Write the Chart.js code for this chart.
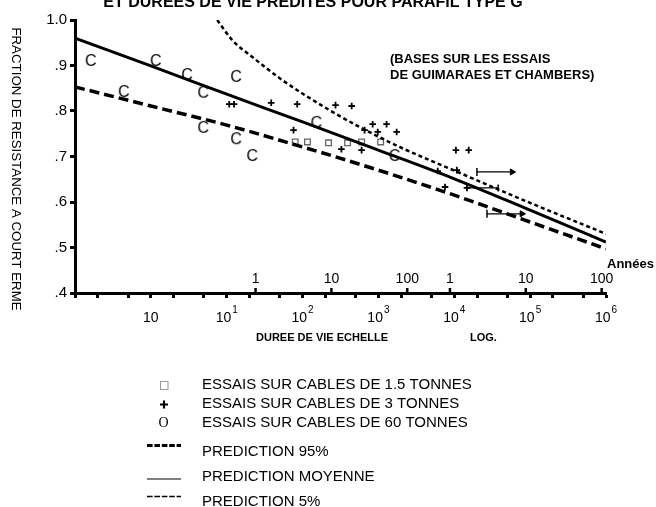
<!DOCTYPE html>
<html>
<head>
<meta charset="utf-8">
<script src="https://cdn.jsdelivr.net/npm/chart.js@4/dist/chart.umd.min.js"></script>
<style>
  html, body { margin: 0; padding: 0; background: #fff; }
  #wrap { position: relative; width: 656px; height: 507px; }
</style>
</head>
<body>
<div id="wrap"><canvas id="chart" width="656" height="507"></canvas></div>
<script>
// ---- Axes -------------------------------------------------------------
const hourMin = 0.1;
const hourMax = 1e6;
const hourTicks = [0.1, 0.2, 0.5, 1, 2, 5, 10, 20, 50, 100, 200, 500,
                   1e3, 2e3, 5e3, 1e4, 2e4, 5e4, 1e5, 2e5, 5e5, 1e6];
const decadeTicks = [1, 10, 100, 1e3, 1e4, 1e5, 1e6];
const decadeExponents = ['', '1', '2', '3', '4', '5', '6'];
// days (1, 10, 100) then years (1, 10, 100), expressed in hours
const calendarTicks = [24, 240, 2400, 8766, 87660, 876600];
const calendarLabels = ['1', '10', '100', '1', '10', '100'];
const fractionTicks = [0.4, 0.5, 0.6, 0.7, 0.8, 0.9, 1.0];
const fractionTickLabels = ['.4', '.5', '.6', '.7', '.8', '.9', '1.0'];

// ---- Test results ------------------------------------------------------
// 1.5 tonne cables
const cable15Hours    = [80, 116, 220, 392, 600, 1070];
const cable15Fraction = [0.732, 0.732, 0.730, 0.730, 0.732, 0.732];
// 3 tonne cables
const cable3Hours    = [10.8, 12.5, 38.6, 85, 76, 272, 444, 325, 600, 657,
                        840, 1280, 980, 1740, 10500, 15500, 6050, 10800, 7550];
const cable3Fraction = [0.815, 0.815, 0.818, 0.815, 0.758, 0.813, 0.811, 0.716, 0.714, 0.758,
                        0.771, 0.771, 0.754, 0.754, 0.714, 0.714, 0.668, 0.670, 0.633];
// 60 tonne cables
const cable60Hours    = [0.161, 1.16, 3.0, 4.9, 13.3, 0.44, 4.9, 13.3, 21.7, 152, 1630];
const cable60Fraction = [0.910, 0.910, 0.879, 0.840, 0.875, 0.842, 0.763, 0.738, 0.701, 0.774, 0.701];
// unbroken specimens (still running): start and current duration
const runoutStartHours = [19900, 27000];
const runoutEndHours   = [57800, 78000];
const runoutFraction   = [0.666, 0.574];
const spanStartHours = [14700];
const spanEndHours   = [37900];
const spanFraction   = [0.631];

// ---- Predictions -------------------------------------------------------
const meanHours    = [0.1, 1, 10, 100, 1e3, 1e4, 1e5, 1e6];
const meanFraction = [0.960, 0.899, 0.837, 0.776, 0.714, 0.651, 0.582, 0.512];
const pred95Hours    = [0.1, 1, 10, 100, 1e3, 1e4, 1e5, 1e6];
const pred95Fraction = [0.853, 0.811, 0.769, 0.721, 0.670, 0.615, 0.556, 0.497];
const pred5Hours    = [7.5, 11.8, 21.7, 54, 226, 564, 1900, 11800, 1e5, 1e6];
const pred5Fraction = [1.0, 0.956, 0.919, 0.868, 0.802, 0.765, 0.721, 0.664, 0.598, 0.530];

const SANS = "'Liberation Sans', Arial, Helvetica, sans-serif";
const SERIF = "'Liberation Serif', 'Times New Roman', serif";

const pts = (xs, ys) => xs.map((x, i) => ({ x, y: ys[i] }));

// "C" glyph used as the marker for the 60 tonne tests
function glyphMarker(ch) {
  const c = document.createElement('canvas');
  c.width = 14; c.height = 16;
  const g = c.getContext('2d');
  g.font = '16px ' + SANS;
  g.fillStyle = '#000';
  g.textAlign = 'center';
  g.textBaseline = 'middle';
  g.fillText(ch, 7, 8.5);
  return c;
}
const cMarker = glyphMarker('C');

const lineDefaults = { type: 'line', showLine: true, pointRadius: 0, borderColor: '#000', fill: false };

const datasets = [
  Object.assign({}, lineDefaults, {
    label: 'PREDICTION MOYENNE', data: pts(meanHours, meanFraction),
    borderWidth: 3, cubicInterpolationMode: 'monotone'
  }),
  Object.assign({}, lineDefaults, {
    label: 'PREDICTION 95%', data: pts(pred95Hours, pred95Fraction),
    borderWidth: 3.5, borderDash: [10, 5], cubicInterpolationMode: 'monotone'
  }),
  Object.assign({}, lineDefaults, {
    label: 'PREDICTION 5%', data: pts(pred5Hours, pred5Fraction),
    borderWidth: 2.5, borderDash: [4, 3], cubicInterpolationMode: 'monotone'
  }),
  {
    label: 'ESSAIS SUR CABLES DE 1.5 TONNES', data: pts(cable15Hours, cable15Fraction),
    pointStyle: 'rect', pointRadius: 4, borderWidth: 1.3,
    borderColor: '#666', backgroundColor: '#fff', clip: false
  },
  {
    label: 'ESSAIS SUR CABLES DE 3 TONNES', data: pts(cable3Hours, cable3Fraction),
    pointStyle: 'cross', pointRadius: 3.3, borderWidth: 1.8,
    borderColor: '#000', backgroundColor: '#000', clip: false
  },
  {
    label: 'ESSAIS SUR CABLES DE 60 TONNES', data: pts(cable60Hours, cable60Fraction),
    pointStyle: cMarker, pointRadius: 6, clip: false
  }
];

// run-outs: tick at the start, arrow head at the end
runoutFraction.forEach((f, i) => {
  datasets.push({
    type: 'line', showLine: true, label: 'runout',
    data: [{ x: runoutStartHours[i], y: f }, { x: runoutEndHours[i], y: f }],
    borderColor: '#000', borderWidth: 1.3, backgroundColor: '#000',
    pointStyle: ['line', 'triangle'], pointRotation: [90, 90], pointRadius: [4, 3.5],
    pointBorderWidth: [1.5, 1], clip: false
  });
});
spanFraction.forEach((f, i) => {
  datasets.push({
    type: 'line', showLine: true, label: 'span',
    data: [{ x: spanStartHours[i], y: f }, { x: spanEndHours[i], y: f }],
    borderColor: '#000', borderWidth: 1.3, backgroundColor: '#000',
    pointStyle: ['cross', 'line'], pointRotation: [0, 90], pointRadius: [3.3, 3.5],
    pointBorderWidth: [1.8, 1.5], clip: false
  });
});

// text, secondary scale and key drawn on top of the plot
const decorations = {
  id: 'decorations',
  afterDraw(chart) {
    const ctx = chart.ctx;
    const xs = chart.scales.x;
    const axisY = chart.chartArea.bottom;
    ctx.save();
    ctx.fillStyle = '#000';
    ctx.strokeStyle = '#000';

    // title (top edge)
    ctx.font = 'bold 16px ' + SANS;
    ctx.textAlign = 'center';
    ctx.textBaseline = 'alphabetic';
    ctx.fillText('ET DUREES DE VIE PREDITES POUR PARAFIL TYPE G', 313, 7);

    // source note
    ctx.font = 'bold 13px ' + SANS;
    ctx.textAlign = 'left';
    ctx.fillText('(BASES SUR LES ESSAIS', 390, 63);
    ctx.fillText('DE GUIMARAES ET CHAMBERS)', 390, 79);

    // vertical axis title, reading downward
    ctx.save();
    ctx.translate(16, 169);
    ctx.rotate(Math.PI / 2);
    ctx.font = '13.3px ' + SANS;
    ctx.textAlign = 'center';
    ctx.textBaseline = 'middle';
    ctx.fillText('FRACTION DE RESISTANCE A COURT ERME', 0, 0);
    ctx.restore();

    // decade labels below the axis (10, 10^1 ... 10^6)
    decadeTicks.forEach((v, i) => {
      const px = xs.getPixelForValue(v);
      ctx.font = '14px ' + SANS;
      const bw = ctx.measureText('10').width;
      ctx.font = '10px ' + SANS;
      const ew = decadeExponents[i] ? ctx.measureText(decadeExponents[i]).width + 1 : 0;
      const left = px - (bw + ew) / 2;
      ctx.font = '14px ' + SANS;
      ctx.textAlign = 'left';
      ctx.textBaseline = 'alphabetic';
      ctx.fillText('10', left, 322);
      if (decadeExponents[i]) {
        ctx.font = '10px ' + SANS;
        ctx.fillText(decadeExponents[i], left + bw + 1, 313);
      }
    });

    // days / years labels above the axis
    ctx.font = '14px ' + SANS;
    ctx.textAlign = 'center';
    ctx.textBaseline = 'alphabetic';
    ctx.lineWidth = 2.5;
    calendarTicks.forEach((v, i) => {
      const px = xs.getPixelForValue(v);
      ctx.fillText(calendarLabels[i], px, 283);
      ctx.beginPath();
      ctx.moveTo(px, axisY - 5);
      ctx.lineTo(px, axisY);
      ctx.stroke();
    });
    ctx.font = 'bold 13px ' + SANS;
    ctx.textAlign = 'left';
    ctx.fillText('Années', 607, 268);

    // horizontal axis title
    ctx.font = 'bold 11px ' + SANS;
    ctx.fillText('DUREE DE VIE ECHELLE', 256, 341);
    ctx.fillText('LOG.', 470, 341);

    // key
    const keyText = ['ESSAIS SUR CABLES DE 1.5 TONNES', 'ESSAIS SUR CABLES DE 3 TONNES',
                     'ESSAIS SUR CABLES DE 60 TONNES', 'PREDICTION 95%',
                     'PREDICTION MOYENNE', 'PREDICTION 5%'];
    const keyBase = [389, 408, 427, 456, 481, 506];
    ctx.font = '15px ' + SANS;
    ctx.textAlign = 'left';
    keyText.forEach((t, i) => ctx.fillText(t, 202, keyBase[i]));

    // key symbols
    ctx.strokeStyle = '#999';
    ctx.lineWidth = 1;
    ctx.strokeRect(160.5, 381.5, 7.5, 8);
    ctx.strokeStyle = '#000';
    ctx.lineWidth = 2.2;
    ctx.beginPath();
    ctx.moveTo(160, 404.5); ctx.lineTo(168, 404.5);
    ctx.moveTo(164, 400.5); ctx.lineTo(164, 408.5);
    ctx.stroke();
    ctx.font = '14px ' + SERIF;
    ctx.textAlign = 'center';
    ctx.fillText('O', 163.5, 427);
    ctx.lineWidth = 3;
    ctx.setLineDash([5.6, 1.8]);
    ctx.beginPath(); ctx.moveTo(147, 445.5); ctx.lineTo(181, 445.5); ctx.stroke();
    ctx.setLineDash([]);
    ctx.lineWidth = 1.2;
    ctx.beginPath(); ctx.moveTo(147, 479); ctx.lineTo(181, 479); ctx.stroke();
    ctx.lineWidth = 1.6;
    ctx.setLineDash([5.6, 1.8]);
    ctx.beginPath(); ctx.moveTo(147, 496.5); ctx.lineTo(181, 496.5); ctx.stroke();
    ctx.restore();
  }
};

new Chart(document.getElementById('chart'), {
  type: 'scatter',
  data: { datasets },
  options: {
    responsive: false,
    animation: false,
    devicePixelRatio: 1,
    layout: { padding: { top: 20, right: 50, left: 0, bottom: 0 } },
    plugins: { legend: { display: false }, tooltip: { enabled: false }, title: { display: false } },
    elements: { point: { hoverRadius: 0 } },
    scales: {
      x: {
        type: 'logarithmic',
        min: hourMin,
        max: hourMax,
        afterBuildTicks(scale) { scale.ticks = hourTicks.map(v => ({ value: v })); },
        afterFit(scale) { scale.height = 214; },
        border: { display: true, color: '#000', width: 3 },
        grid: { display: true, drawOnChartArea: false, drawTicks: true,
                tickLength: 5, tickWidth: 3, tickColor: '#000' },
        ticks: { display: false }
      },
      y: {
        min: 0.4,
        max: 1.0,
        afterBuildTicks(scale) { scale.ticks = fractionTicks.map(v => ({ value: v })); },
        afterFit(scale) { scale.width = 75; },
        border: { display: true, color: '#000', width: 3 },
        grid: { display: true, drawOnChartArea: false, drawTicks: true,
                tickLength: 5, tickWidth: 3, tickColor: '#000' },
        ticks: {
          color: '#000',
          padding: 3,
          font: { family: SANS, size: 15 },
          callback: (v, i) => fractionTickLabels[i]
        }
      }
    }
  },
  plugins: [decorations]
});
</script>
</body>
</html>
